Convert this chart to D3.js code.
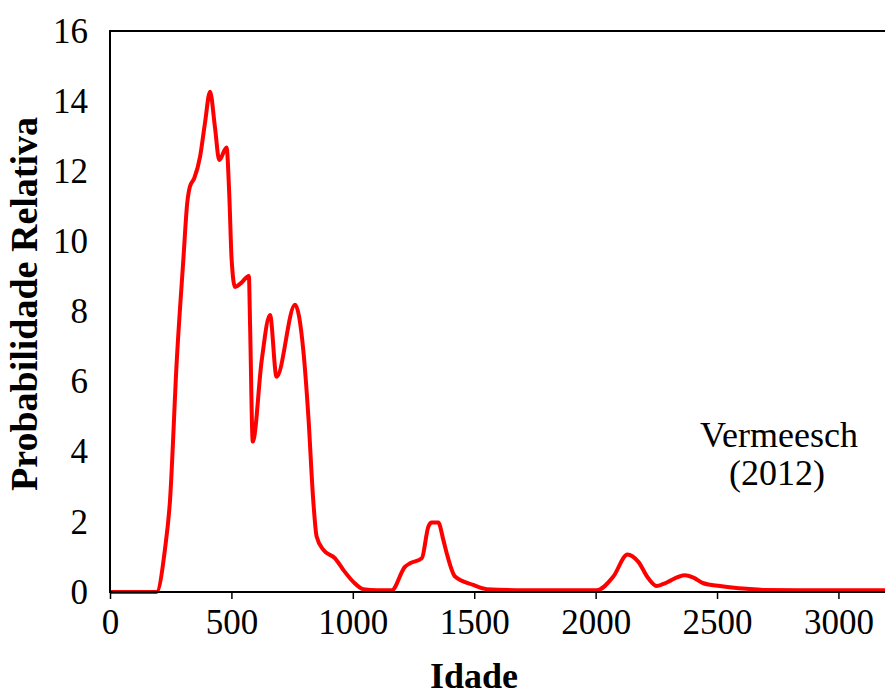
<!DOCTYPE html>
<html><head><meta charset="utf-8">
<script src="https://cdn.jsdelivr.net/npm/d3@7"></script>
<style>body{margin:0;background:#fff}svg{display:block}</style>
</head><body>
<svg id="c" width="885" height="697"></svg>
<script>
const ages = [0,100,192,226,247,275,302,318,329,347,371,391,412,432,450,480,491,501,515,538,572,577,588,625,659,686,762,796,817,837,851,879,927,961,1002,1043,1100,1160,1215,1236,1284,1311,1325,1352,1373,1387,1421,1496,1551,1700,1850,2004,2073,2131,2176,2217,2252,2279,2368,2403,2444,2512,2622,2690,2900,3200];
const probs = [0,0,0,1.2,2.6,6.6,9.47,11.09,11.56,11.8,12.42,13.37,14.27,13.27,12.32,12.68,11.37,9.47,8.7,8.8,9.01,7.57,4.29,6.62,7.9,6.14,8.19,6.9,5.0,2.62,1.58,1.2,0.96,0.63,0.29,0.08,0.05,0.05,0.72,0.82,0.96,1.86,1.98,1.98,1.48,1.1,0.44,0.2,0.08,0.05,0.05,0.05,0.44,1.07,0.86,0.39,0.17,0.23,0.48,0.41,0.25,0.17,0.09,0.06,0.05,0.05];
const xTicks = [0,500,1000,1500,2000,2500,3000];
const yTicks = [0,2,4,6,8,10,12,14,16];

const svg = d3.select('#c');
const x = d3.scaleLinear().domain([0,3200]).range([110,887]);
const y = d3.scaleLinear().domain([0,16]).range([592,31]);
const font = '"Liberation Serif","Times New Roman",serif';

const line = d3.line().x((d,i)=>x(ages[i])).y(d=>y(d)).curve(d3.curveMonotoneX);
svg.append('path').datum(probs).attr('d',line)
  .attr('fill','none').attr('stroke','#ff0000').attr('stroke-width',4).attr('stroke-linejoin','round');

// frame
svg.append('line').attr('x1',110).attr('x2',885).attr('y1',31).attr('y2',31).attr('stroke','#000').attr('stroke-width',2);
svg.append('line').attr('x1',110).attr('x2',110).attr('y1',30).attr('y2',593).attr('stroke','#000').attr('stroke-width',2);

const xa = svg.append('g').attr('transform','translate(0,592)')
  .call(d3.axisBottom(x).tickValues(xTicks).tickFormat(d3.format('d')).tickSize(7).tickSizeOuter(0).tickPadding(10));
xa.select('.domain').attr('stroke','#000').attr('stroke-width',2).attr('d','M110,0H885');
xa.selectAll('.tick line').attr('stroke','#000').attr('stroke-width',1.5);
xa.selectAll('.tick text').attr('font-family',font).attr('font-size',35).attr('fill','#000');

const ya = svg.append('g').attr('transform','translate(110,0)')
  .call(d3.axisLeft(y).tickValues(yTicks).tickFormat(d3.format('d')).tickSize(0).tickPadding(22));
ya.select('.domain').remove();
ya.selectAll('.tick text').attr('font-family',font).attr('font-size',35).attr('fill','#000');

svg.append('text').attr('x',474).attr('y',688).attr('text-anchor','middle')
  .attr('font-family',font).attr('font-weight','bold').attr('font-size',36).text('Idade');
svg.append('text').attr('transform','translate(37,304) rotate(-90)').attr('text-anchor','middle')
  .attr('font-family',font).attr('font-weight','bold').attr('font-size',38).text('Probabilidade Relativa');

svg.append('text').attr('x',779).attr('y',447).attr('text-anchor','middle')
  .attr('font-family',font).attr('font-size',36).text('Vermeesch');
svg.append('text').attr('x',777).attr('y',485).attr('text-anchor','middle')
  .attr('font-family',font).attr('font-size',36).text('(2012)');
</script>
</body></html>
